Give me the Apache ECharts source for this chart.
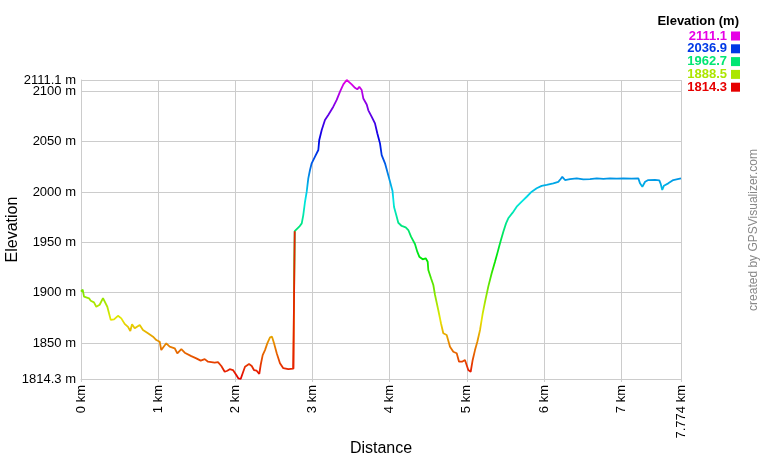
<!DOCTYPE html>
<html><head><meta charset="utf-8">
<script src="https://cdn.jsdelivr.net/npm/echarts@6/dist/echarts.min.js"></script>
<style>html,body{margin:0;padding:0;background:#fff}#c{width:760px;height:460px}</style>
</head><body><div id="c"></div>
<script>
// ---- data ----
const distanceKm = [
  0, 0.022, 0.039, 0.104, 0.126, 0.168, 0.198, 0.242, 0.285, 0.307, 0.341, 0.385, 0.428, 0.479, 0.522, 0.566, 0.609, 0.639, 0.661, 0.696,
  0.761, 0.803, 0.868, 0.933, 0.976, 1.020, 1.040, 1.105, 1.149, 1.214, 1.248, 1.300, 1.344, 1.429, 1.494, 1.551, 1.603, 1.646, 1.732, 1.775,
  1.818, 1.862, 1.896, 1.927, 1.969, 2.012, 2.038, 2.069, 2.095, 2.125, 2.177, 2.212, 2.241, 2.276, 2.310, 2.328, 2.354, 2.384, 2.414, 2.449,
  2.475, 2.501, 2.536, 2.578, 2.621, 2.686, 2.751, 2.760, 2.769, 2.795, 2.828, 2.860, 2.880, 2.902, 2.924, 2.945, 2.967, 2.989, 3.032, 3.075,
  3.087, 3.119, 3.161, 3.204, 3.269, 3.313, 3.356, 3.399, 3.443, 3.463, 3.507, 3.550, 3.580, 3.606, 3.637, 3.658, 3.702, 3.723, 3.767, 3.809,
  3.839, 3.874, 3.896, 3.939, 3.969, 4.004, 4.036, 4.056, 4.088, 4.111, 4.155, 4.207, 4.241, 4.276, 4.327, 4.357, 4.383, 4.427, 4.466, 4.492,
  4.500, 4.535, 4.565, 4.587, 4.629, 4.664, 4.694, 4.738, 4.781, 4.824, 4.868, 4.898, 4.937, 4.975, 4.998, 5.018, 5.049, 5.075, 5.105, 5.135,
  5.170, 5.205, 5.235, 5.277, 5.321, 5.364, 5.394, 5.429, 5.472, 5.507, 5.536, 5.593, 5.645, 5.710, 5.775, 5.840, 5.904, 5.969, 6.034, 6.120,
  6.184, 6.215, 6.236, 6.271, 6.336, 6.423, 6.508, 6.595, 6.682, 6.768, 6.854, 6.941, 7.027, 7.135, 7.221, 7.243, 7.273, 7.309, 7.350, 7.437,
  7.493, 7.511, 7.531, 7.553, 7.609, 7.674, 7.774
];
const elevationM = [
  1901, 1903, 1896, 1894.4, 1892, 1890.4, 1886, 1888, 1894.5, 1892.7, 1886, 1873, 1873.5, 1877, 1874.5, 1869, 1866, 1862, 1868.6, 1864.6,
  1868, 1863, 1859.7, 1856.3, 1853, 1851.3, 1843, 1849.7, 1846.4, 1844.8, 1839.8, 1844, 1840.4, 1837, 1834.8, 1832.5, 1834, 1831.5, 1830.5, 1831,
  1827.2, 1821.5, 1822.5, 1824, 1823.2, 1818.3, 1815, 1814.3, 1820, 1826.5, 1829.2, 1827.2, 1823.2, 1822.5, 1819.3, 1828.2, 1838, 1843, 1849.7, 1855.7,
  1856.3, 1849.7, 1839.8, 1830, 1825, 1824, 1824.5, 1892.7, 1961, 1963, 1965.5, 1968.8, 1977, 1990, 2000, 2013.5, 2021.8, 2028.4, 2035, 2041.6,
  2051.6, 2061.5, 2071.4, 2076.4, 2084.6, 2091.3, 2099.5, 2106.8, 2111.1, 2110.1, 2106.8, 2103.4, 2101.8, 2104.4, 2101.1, 2092.8, 2086.8, 2081, 2074.5, 2068,
  2058.2, 2048.2, 2036.6, 2028.4, 2020, 2010, 2001, 1985, 1976, 1969.4, 1966.2, 1964.9, 1962.2, 1955.6, 1948.3, 1940.7, 1935.7, 1933.1, 1934.1, 1930.7,
  1922.5, 1914.3, 1907.6, 1897.7, 1882.8, 1869.6, 1859.7, 1858, 1846.4, 1841.4, 1839.8, 1831.5, 1831.5, 1833.2, 1831.5, 1823.2, 1821.5, 1833.2, 1843, 1851.3,
  1863, 1879.5, 1891, 1906, 1919.2, 1930.7, 1939, 1949, 1960.5, 1968.8, 1973.8, 1979.4, 1985.3, 1990.3, 1995.2, 2000.2, 2003.6, 2006, 2007, 2008.5,
  2010, 2012.8, 2015, 2011.8, 2012.8, 2013.5, 2012.5, 2012.8, 2013.5, 2013, 2013.5, 2013.2, 2013.5, 2013.3, 2013.5, 2008.5, 2005.2, 2010.1, 2011.8, 2012,
  2011.5, 2008, 2002, 2006.2, 2008.5, 2011.8, 2013.5
];
const xTickValues = [0, 1, 2, 3, 4, 5, 6, 7, 7.774];
const yTickValues = [1814.3, 1850, 1900, 1950, 2000, 2050, 2100, 2111.1];
const legendValues = [2111.1, 2036.9, 1962.7, 1888.5, 1814.3];
const jumpFrom = 2.751, jumpTo = 2.769; // the vertical jump segment (drawn in the start colour)

// ---- styles ----
const FONT = "'Liberation Sans', Arial, sans-serif";
const rampColors = ['#e60000', '#e67300', '#e6e600', '#73e600', '#00e600', '#00e673',
                    '#00e6e6', '#0073e6', '#0000e6', '#7300e6', '#e600e6'];
const legendColors = ['#e600e6', '#0039e6', '#00e673', '#ace600', '#e60000'];
const gridColor = '#cccccc';

const points = distanceKm.map((d, i) => [d, elevationM[i]]);
const jumpPoints = points.filter(p => p[0] >= jumpFrom && p[0] <= jumpTo);

const xMin = xTickValues[0], xMax = xTickValues[xTickValues.length - 1];
const yMin = yTickValues[0], yMax = yTickValues[yTickValues.length - 1];
// the label just below the max sits very close to it: draw it on an overlaid axis so both are kept
const yLabelsB = [yTickValues[yTickValues.length - 2]];
const yLabelsA = yTickValues.filter(v => yLabelsB.indexOf(v) < 0);

const graphic = [
  { type: 'text', x: 739, y: 21, style: { text: 'Elevation (m)', font: 'bold 13px ' + FONT, fill: '#000', textAlign: 'right', textVerticalAlign: 'middle' } },
  { type: 'text', x: 754, y: 230, rotation: Math.PI / 2, style: { text: 'created by GPSVisualizer.com', font: '12px ' + FONT, fill: '#888', textAlign: 'center', textVerticalAlign: 'middle' } }
];
legendValues.forEach((v, i) => {
  const cy = 36 + 12.8 * i;
  graphic.push({ type: 'text', x: 727, y: cy, style: { text: v.toFixed(1), font: 'bold 13px ' + FONT, fill: legendColors[i], textAlign: 'right', textVerticalAlign: 'middle' } });
  graphic.push({ type: 'rect', shape: { x: 731, y: cy - 4.5, width: 9, height: 9 }, style: { fill: legendColors[i] } });
});

const yLabelStyle = { margin: 5, fontSize: 13, color: '#000', fontFamily: FONT, hideOverlap: false,
                      showMinLabel: true, showMaxLabel: true, formatter: v => v + ' m' };

const chart = echarts.init(document.getElementById('c'), null, { renderer: 'canvas' });
chart.setOption({
  animation: false,
  backgroundColor: '#fff',
  textStyle: { fontFamily: FONT },
  grid: { left: 81, right: 79, top: 80, bottom: 81, containLabel: false, outerBoundsMode: 'none' },
  xAxis: {
    type: 'value', min: xMin, max: xMax,
    name: 'Distance', nameLocation: 'middle', nameGap: 62, nameMoveOverlap: false,
    nameTextStyle: { fontSize: 16, color: '#000', fontFamily: FONT },
    axisLine: { show: true, lineStyle: { color: gridColor } },
    axisTick: { show: true, length: 3, customValues: xTickValues, lineStyle: { color: gridColor } },
    axisLabel: { customValues: xTickValues, rotate: 90, margin: 6, fontSize: 13, color: '#000', fontFamily: FONT,
                 hideOverlap: false, formatter: v => v + ' km' },
    splitLine: { show: true, lineStyle: { color: gridColor, width: 1 } }
  },
  yAxis: [{
    type: 'value', min: yMin, max: yMax, position: 'left',
    name: 'Elevation', nameLocation: 'middle', nameGap: 60, nameMoveOverlap: false,
    nameTextStyle: { fontSize: 16, color: '#000', fontFamily: FONT },
    axisLine: { show: true, lineStyle: { color: gridColor } },
    axisTick: { show: false, customValues: yTickValues },
    axisLabel: Object.assign({ customValues: yLabelsA }, yLabelStyle),
    splitLine: { show: true, lineStyle: { color: gridColor, width: 1 } }
  }, {
    type: 'value', min: yMin, max: yMax, position: 'left', offset: 0,
    axisLine: { show: false }, axisTick: { show: false, customValues: yLabelsB },
    axisLabel: Object.assign({ customValues: yLabelsB }, yLabelStyle),
    splitLine: { show: false }
  }],
  visualMap: {
    show: false, type: 'continuous', seriesIndex: 0, dimension: 1,
    min: yMin, max: yMax, inRange: { color: rampColors }
  },
  series: [
    { type: 'line', data: points, showSymbol: false, lineStyle: { width: 1.8 }, silent: true },
    { type: 'line', data: jumpPoints, showSymbol: false, lineStyle: { width: 1.8, color: '#e62200' }, silent: true }
  ],
  graphic: graphic
});
</script>
</body></html>
